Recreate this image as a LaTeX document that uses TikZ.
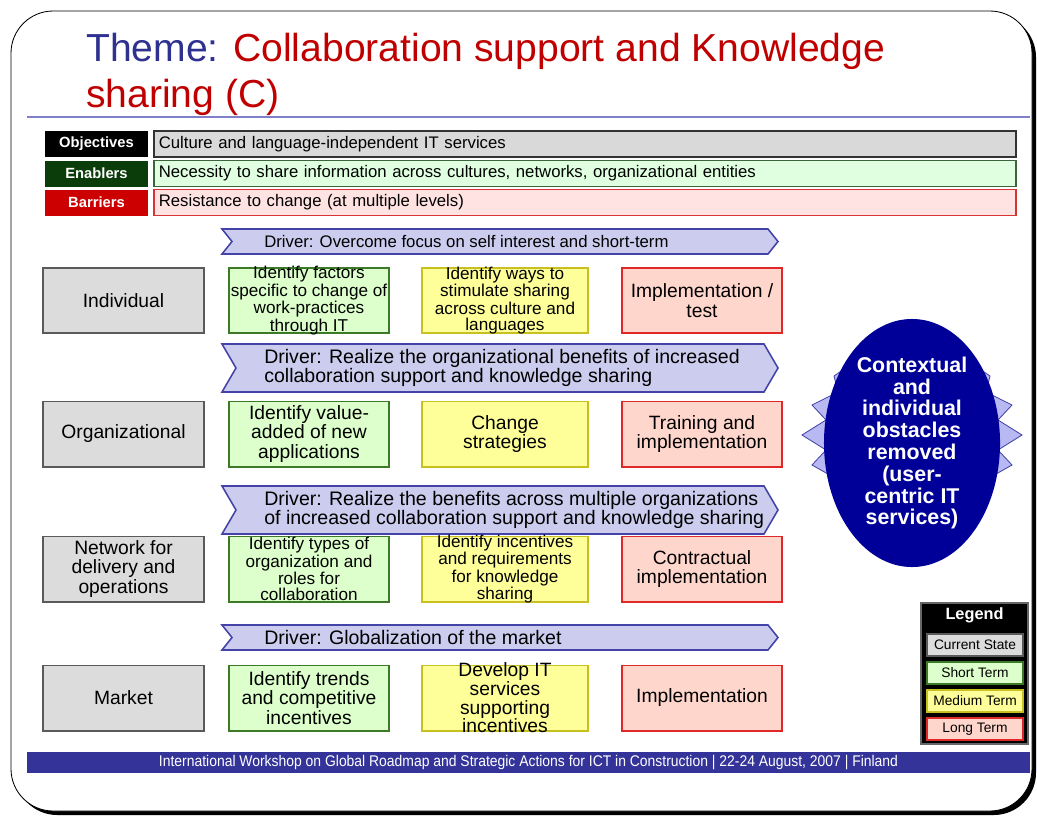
\documentclass[tikz,border=0pt]{standalone}
\usepackage{fontspec}
\setmainfont{Liberation Sans}
\newfontfamily\narrowfont[FakeStretch=0.9]{Liberation Sans}
\usetikzlibrary{shapes.geometric}

\definecolor{titleblue}{HTML}{2E3190}
\definecolor{titlered}{HTML}{C00000}
\definecolor{rulecol}{HTML}{8080C8}
\definecolor{objfill}{HTML}{D9D9D9}
\definecolor{enabfill}{HTML}{E0FFE0}
\definecolor{enabgreen}{HTML}{0B3D0B}
\definecolor{barfill}{HTML}{FFE2E2}
\definecolor{barred}{HTML}{CC0000}
\definecolor{nowfill}{HTML}{DCDCDC}
\definecolor{nowline}{HTML}{5A5A5A}
\definecolor{shortfill}{HTML}{DDFFCC}
\definecolor{shortline}{HTML}{3C7A28}
\definecolor{midfill}{HTML}{FFFF99}
\definecolor{midline}{HTML}{C8C020}
\definecolor{longfill}{HTML}{FFD6CC}
\definecolor{longline}{HTML}{E02828}
\definecolor{drvfill}{HTML}{CCCCEE}
\definecolor{drvline}{HTML}{4444A8}
\definecolor{ovalblue}{HTML}{000099}
\definecolor{spikefill}{HTML}{B8B8F2}
\definecolor{footblue}{HTML}{333399}

\begin{document}
\begin{tikzpicture}[x=0.025cm, y=-0.025cm,
    tag/.style={minimum width=2.575cm, minimum height=0.65cm, inner sep=0pt, text=white, font=\bfseries\fontsize{10.5}{12}\selectfont},
    barbox/.style={anchor=west, text width=21.3cm, inner xsep=0.125cm, inner ysep=0pt, minimum height=0.65cm, align=left, line width=1.2pt, font=\fontsize{11.9}{13}\selectfont},
    drv/.style={fill=drvfill, draw=drvline, line width=1.1pt, line join=miter},
    drvtext/.style={anchor=west, align=left, inner sep=0pt, font=\fontsize{13.9}{14}\selectfont},
    cell/.style={minimum width=4cm, minimum height=1.625cm, line width=1.4pt, align=center, inner sep=0pt, font=\fontsize{13.7}{14}\selectfont},
    nowbox/.style={cell, fill=nowfill, draw=nowline},
    shortbox/.style={cell, fill=shortfill, draw=shortline},
    midbox/.style={cell, minimum width=4.15cm, fill=midfill, draw=midline},
    longbox/.style={cell, fill=longfill, draw=longline},
    tight/.style={inner ysep=-2.5pt, font=\fontsize{12.2}{11.3}\selectfont},
    key/.style={minimum width=2.4cm, minimum height=0.55cm, inner sep=0pt, line width=1.4pt, font=\fontsize{9.8}{11}\selectfont}]
  \useasboundingbox (0,0) rectangle (1037,816);

  % slide frame
  \fill[black, rounded corners=30] (15,15) rectangle (1036,815);
  \draw[fill=white, line width=0.6pt, rounded corners=30] (11,11) rectangle (1032,811);

  % title
  \node[anchor=north west, inner sep=0pt, align=left, text=titlered, font=\fontsize{27.8}{32.5}\selectfont] (title) at (86,33)
    {\textcolor{titleblue}{Theme:} Collaboration support and Knowledge\\sharing (C)};
  \draw[rulecol, line width=1.2pt] (27,117) -- (1030,117);

  % objectives, enablers, barriers
  \node[tag, fill=black] (objtag) at (96.5,144) {Objectives};
  \node[barbox, fill=objfill, draw=black!80] (objbar) at (153,144) {Culture and language-independent IT services};
  \node[tag, fill=enabgreen] (enabtag) at (96.5,173.5) {Enablers};
  \node[barbox, fill=enabfill, draw=enabgreen!80] (enabbar) at (153,173.5) {Necessity to share information across cultures, networks, organizational entities};
  \node[tag, fill=barred] (bartag) at (96.5,202.5) {Barriers};
  \node[barbox, fill=barfill, draw=barred!80] (barbar) at (153,202.5) {Resistance to change (at multiple levels)};

  % drivers
  \draw[drv] (222,229) -- (768,229) -- (778,241.5) -- (768,254) -- (222,254) -- (232,241.5) -- cycle;
  \node[drvtext, font=\fontsize{11.9}{14}\selectfont] (drv1) at (264,241.5) {Driver: Overcome focus on self interest and short-term};
  \draw[drv] (222,344) -- (764,344) -- (778,368) -- (764,392) -- (222,392) -- (236,368) -- cycle;
  \node[drvtext] (drv2) at (264,368) {Driver: Realize the organizational benefits of increased\\collaboration support and knowledge sharing};
  \draw[drv] (222,486) -- (764,486) -- (778,510) -- (764,534) -- (222,534) -- (236,510) -- cycle;
  \node[drvtext] (drv3) at (264,510) {Driver: Realize the benefits across multiple organizations\\of increased collaboration support and knowledge sharing};
  \draw[drv] (222,625) -- (768,625) -- (778,637.5) -- (768,650) -- (222,650) -- (232,637.5) -- cycle;
  \node[drvtext] (drv4) at (264,637.5) {Driver: Globalization of the market};

  % individual
  \node[nowbox] (indiv) at (123.5,300.5) {Individual};
  \node[shortbox, tight] (indivs) at (309,300.5) {Identify factors\\specific to change of\\work-practices\\through IT};
  \node[midbox, tight] (indivm) at (505,300.5) {Identify ways to\\stimulate sharing\\across culture and\\languages};
  \node[longbox] (indivl) at (702,300.5) {Implementation /\\test};

  % organizational
  \node[nowbox] (org) at (123.5,434) {Organizational};
  \node[shortbox] (orgs) at (309,434) {Identify value-\\added of new\\applications};
  \node[midbox] (orgm) at (505,434) {Change\\strategies};
  \node[longbox] (orgl) at (702,434) {Training and\\implementation};

  % network
  \node[nowbox] (net) at (123.5,569) {Network for\\delivery and\\operations};
  \node[shortbox, tight] (nets) at (309,569) {Identify types of\\organization and\\roles for\\collaboration};
  \node[midbox, tight] (netm) at (505,569) {Identify incentives\\and requirements\\for knowledge\\sharing};
  \node[longbox] (netl) at (702,569) {Contractual\\implementation};

  % market
  \node[nowbox] (mkt) at (123.5,698) {Market};
  \node[shortbox] (mkts) at (309,698) {Identify trends\\and competitive\\incentives};
  \node[midbox, inner ysep=-4pt, font=\fontsize{13.7}{13.3}\selectfont] (mktm) at (505,698) {Develop IT\\services\\supporting\\incentives};
  \node[longbox] (mktl) at (702,698) {Implementation};

  % goal
  \filldraw[fill=spikefill, draw=drvline, line width=0.6pt] (850,365) -- (834,376) -- (838,392) -- (812,405) -- (826,420) -- (802,435) -- (826,450) -- (812,465) -- (835,478) -- cycle;
  \filldraw[fill=spikefill, draw=drvline, line width=0.6pt] (974,365) -- (990,376) -- (986,392) -- (1012,405) -- (998,420) -- (1022,435) -- (998,450) -- (1012,465) -- (989,478) -- cycle;
  \node[ellipse, fill=ovalblue, minimum width=4.4cm, minimum height=6.2cm, inner sep=0pt, text=white, align=center, font=\bfseries\fontsize{15.2}{15.5}\selectfont] (goal) at (912,443)
    {Contextual\\and\\individual\\obstacles\\removed\\(user-\\centric IT\\services)};

  % legend
  \node[fill=black, draw=black!60, line width=0.8pt, minimum width=2.675cm, minimum height=3.525cm] (legend) at (974.5,673.5) {};
  \node[text=white, font=\bfseries\fontsize{11.6}{13}\selectfont] (legendhead) at (974.5,615) {Legend};
  \node[key, fill=nowfill, draw=nowline] (keynow) at (975,645) {Current State};
  \node[key, fill=shortfill, draw=shortline] (keyshort) at (975,673) {Short Term};
  \node[key, fill=midfill, draw=midline] (keymid) at (975,701) {Medium Term};
  \node[key, fill=longfill, draw=longline] (keylong) at (975,729) {Long Term};

  % footer
  \node[fill=footblue, minimum width=25.075cm, minimum height=0.525cm, inner sep=0pt, text=white, font=\narrowfont\fontsize{11}{12}\selectfont] (foot) at (528.5,762.5)
    {International Workshop on Global Roadmap and Strategic Actions for ICT in Construction | 22-24 August, 2007 | Finland};
\end{tikzpicture}
\end{document}
